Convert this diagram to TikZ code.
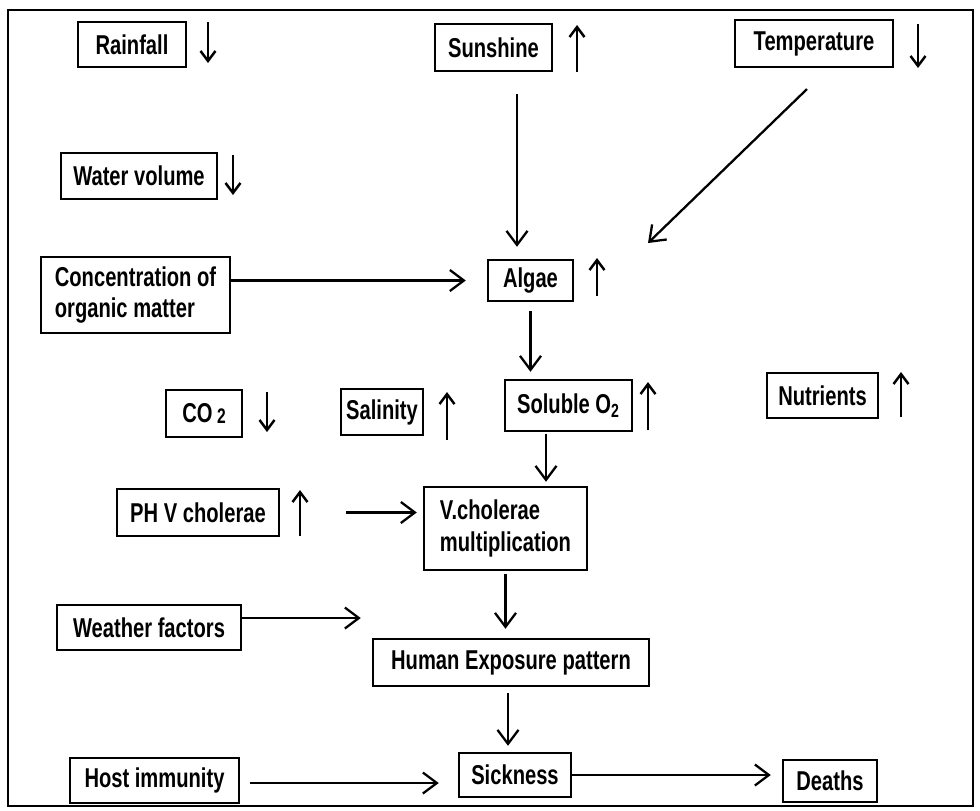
\documentclass[tikz,border=0pt]{standalone}
\usepackage{fontspec}
\setmainfont{Liberation Sans}[FakeStretch=0.74]
\usetikzlibrary{arrows.meta,calc}
\tikzset{
  factorbox/.style={draw,line width=1.4pt,inner sep=0pt,align=center,
    font=\bfseries\fontsize{15.5}{18}\selectfont},
  flowarrow/.style={-{Straight Barb[length=2.8mm,width=4.2mm]},line width=1.3pt},
  trendarrow/.style={-{Straight Barb[length=2mm,width=3mm]},line width=1.4pt}
}

\begin{document}
\begin{tikzpicture}[x=0.2mm,y=-0.2mm]
  \useasboundingbox (0,0) rectangle (980,810);
  \draw[line width=1.5pt] (8,10) rectangle (973,806);
  % factors
  \node[factorbox,minimum width=21.6mm,minimum height=9mm] (rainfall) at (132,44.5) {Rainfall};
  \node[factorbox,minimum width=23.4mm,minimum height=9.4mm] (sunshine) at (493.5,47.5) {Sunshine};
  \node[factorbox,minimum width=31.6mm,minimum height=9.4mm] (temperature) at (814,43.5) {Temperature};
  \node[factorbox,minimum width=31.2mm,minimum height=9.2mm] (watervol) at (139,176) {Water volume};
  \node[factorbox,align=left,minimum width=37.8mm,minimum height=15.2mm] (organic) at (135.5,295)
    {Concentration of\\organic matter};
  \node[factorbox,minimum width=17mm,minimum height=8.2mm] (algae) at (530.5,280.5) {Algae};
  \node[factorbox,minimum width=15.2mm,minimum height=9.4mm] (cotwo) at (204,413.5)
    {CO\,\raisebox{-1pt}{\fontsize{12}{12}\selectfont 2}};
  \node[factorbox,minimum width=16.4mm,minimum height=9.2mm] (salinity) at (382,412) {Salinity};
  \node[factorbox,minimum width=25.4mm,minimum height=10.2mm] (oxygen) at (568.5,405.5)
    {Soluble O\textsubscript{2}};
  \node[factorbox,minimum width=22.2mm,minimum height=9mm] (nutrients) at (822.5,395.5) {Nutrients};
  \node[factorbox,minimum width=32.4mm,minimum height=9.4mm] (phvc) at (198,512.5) {PH V cholerae};
  \node[factorbox,align=left,minimum width=32.6mm,minimum height=16.6mm] (vcmult) at (505.5,528.5)
    {V.cholerae\\multiplication};
  \node[factorbox,minimum width=36.8mm,minimum height=9mm] (weather) at (149,627.5) {Weather factors};
  \node[factorbox,minimum width=55.2mm,minimum height=9.4mm] (exposure) at (511,662.5)
    {Human Exposure pattern};
  \node[factorbox,minimum width=33.8mm,minimum height=9mm] (hostimm) at (154.5,780.5) {Host immunity};
  \node[factorbox,minimum width=22.4mm,minimum height=8.8mm] (sickness) at (515,775) {Sickness};
  \node[factorbox,minimum width=18.8mm,minimum height=8.4mm] (deaths) at (830,781) {Deaths};
  % rise / fall marks
  \foreach \x/\ya/\yb in {208/22/63,577/72/25,918/24/68,233/155/195,597/296/258,
      267/392/432,447/440/392,648/430/382,901/417/372,300/536/490}
    \draw[trendarrow] (\x,\ya) -- (\x,\yb);
  % links
  \coordinate (tempend) at (648,243);
  \draw[flowarrow,shorten <=4.4mm,shorten >=2.4mm] ([xshift=4.7mm]sunshine.south)
    -- ([xshift=4.7mm]sunshine.south |- algae.north);
  \draw[flowarrow,shorten <=6mm] ([xshift=2.9mm]temperature.south) -- (tempend);
  \draw[flowarrow,shorten >=4.2mm] (organic.east |- algae.west) -- (algae.west);
  \draw[flowarrow,shorten <=1.8mm,shorten >=1.4mm] (algae.south) -- (algae.south |- oxygen.north);
  \draw[flowarrow,shorten <=0.4mm,shorten >=0.8mm] ([xshift=-4.5mm]oxygen.south)
    -- ([xshift=-4.5mm]oxygen.south |- vcmult.north);
  \draw[flowarrow,shorten <=13.2mm,shorten >=1.2mm] (phvc.east) -- (phvc.east -| vcmult.west);
  \draw[flowarrow,shorten <=0.6mm,shorten >=1.8mm] (vcmult.south) -- (vcmult.south |- exposure.north);
  \draw[flowarrow,shorten >=2.2mm] ([yshift=1.9mm]weather.east) -- ([yshift=1.9mm]weather.east -| exposure.west);
  \draw[flowarrow,shorten <=1.2mm,shorten >=1.2mm] ([xshift=-0.6mm]exposure.south)
    -- ([xshift=-0.6mm]exposure.south |- sickness.north);
  \draw[flowarrow,shorten <=2mm,shorten >=3.8mm] ([yshift=-0.5mm]hostimm.east) -- ([yshift=-0.5mm]hostimm.east -| sickness.west);
  \draw[flowarrow,shorten >=2.2mm] (sickness.east) -- (sickness.east -| deaths.west);
\end{tikzpicture}
\end{document}
